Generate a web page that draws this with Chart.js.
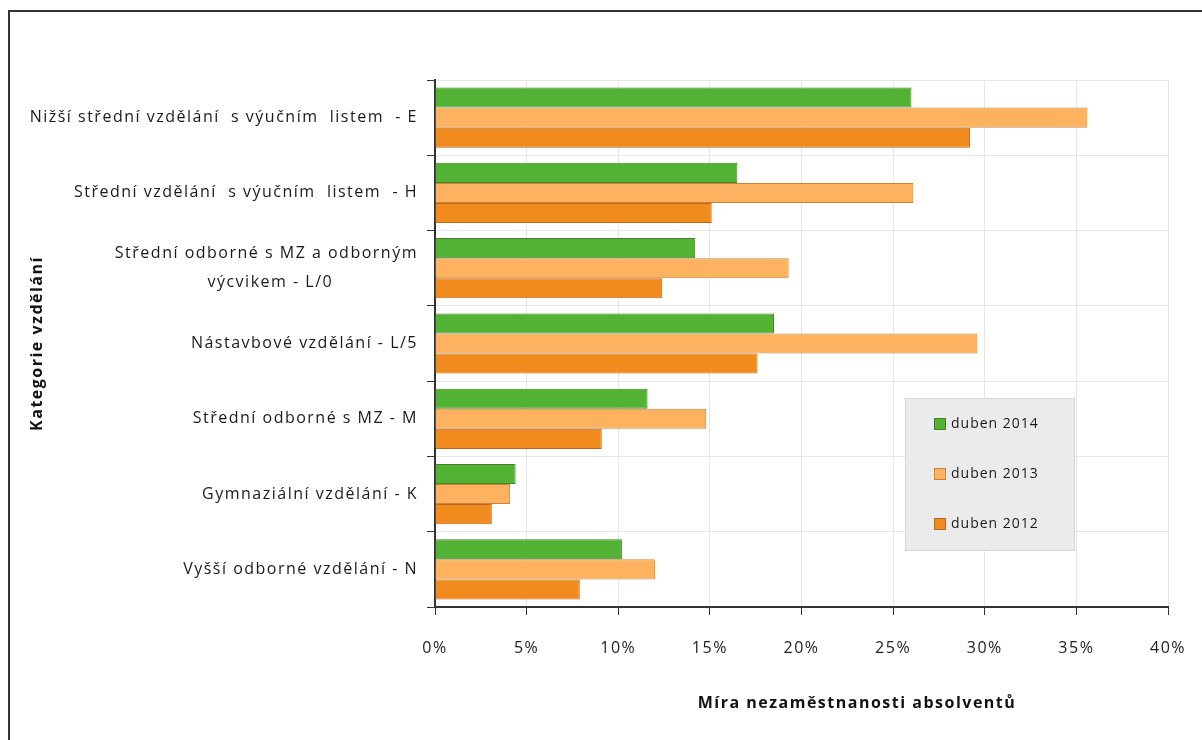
<!DOCTYPE html>
<html>
<head>
<meta charset="utf-8">
<script src="https://cdn.jsdelivr.net/npm/chart.js@4"></script>
<style>
  html, body { margin: 0; padding: 0; background: #fff; }
  #wrap { position: relative; width: 1202px; height: 740px; overflow: hidden; }
  #frame { position: absolute; left: 8px; top: 10px; width: 1300px; height: 800px;
           border-top: 2px solid #333; border-left: 2px solid #333; pointer-events: none; }
  canvas { position: absolute; left: 0; top: 0; }
</style>
</head>
<body>
<div id="wrap">
  <canvas id="chart" width="1202" height="740"></canvas>
  <div id="frame"></div>
</div>
<script>
const categories = [
    'Nižší střední vzdělání  s výučním  listem  - E',
    'Střední vzdělání  s výučním  listem  - H',
    ['Střední odborné s MZ a odborným', 'výcvikem - L/0' + '\u00a0'.repeat(15)],
    'Nástavbové vzdělání - L/5',
    'Střední odborné s MZ - M',
    'Gymnaziální vzdělání - K',
    'Vyšší odborné vzdělání - N'
];
const seriesNames = ['duben 2014', 'duben 2013', 'duben 2012'];
const duben2014 = [26.0, 16.5, 14.2, 18.5, 11.6, 4.4, 10.2];
const duben2013 = [35.6, 26.1, 19.3, 29.6, 14.8, 4.1, 12.0];
const duben2012 = [29.2, 15.1, 12.4, 17.6, 9.1, 3.1, 7.9];
const xTicks = [0, 5, 10, 15, 20, 25, 30, 35, 40];

const colors = {
    'duben 2014': { fill: '#52b233', border: '#4d7f2a' },
    'duben 2013': { fill: '#fdb25f', border: '#c9853c' },
    'duben 2012': { fill: '#f28b1d', border: '#b8691c' }
};

const FONT = '"Open Sans", "Noto Sans", sans-serif';

// the original text is rendered with wide letter spacing
const spacing = {
    id: 'spacing',
    beforeLayout(chart) { chart.ctx.letterSpacing = '1.5px'; },
    beforeDraw(chart) { chart.ctx.letterSpacing = '1.5px'; }
};

// legend drawn as a grey box inside the plot area
const boxLegend = {
    id: 'boxLegend',
    afterDraw(chart) {
        const ctx = chart.ctx;
        ctx.save();
        ctx.fillStyle = '#ebebeb';
        ctx.strokeStyle = '#d6d6d6';
        ctx.lineWidth = 1;
        ctx.fillRect(905, 398, 169, 152);
        ctx.strokeRect(905.5, 398.5, 169, 152);
        chart.data.datasets.forEach((ds, i) => {
            const cy = 424 + i * 50;
            ctx.fillStyle = ds.backgroundColor;
            ctx.strokeStyle = ds.borderColor;
            ctx.fillRect(934, cy - 6, 12, 12);
            ctx.strokeRect(934.5, cy - 5.5, 11, 11);
            ctx.fillStyle = '#1a1a1a';
            ctx.font = '14px ' + FONT;
            ctx.letterSpacing = '1px';
            ctx.textAlign = 'left';
            ctx.textBaseline = 'middle';
            ctx.fillText(ds.label, 951, cy);
        });
        ctx.restore();
    }
};

const xTitle = {
    id: 'xTitle',
    afterDraw(chart) {
        const ctx = chart.ctx;
        ctx.save();
        ctx.fillStyle = '#111';
        ctx.font = 'bold 16px ' + FONT;
        ctx.letterSpacing = '1.5px';
        ctx.textAlign = 'center';
        ctx.textBaseline = 'middle';
        ctx.fillText('Míra nezaměstnanosti absolventů', 857, 703);
        ctx.restore();
    }
};

const series = [duben2014, duben2013, duben2012];

new Chart(document.getElementById('chart'), {
    type: 'bar',
    data: {
        labels: categories,
        datasets: seriesNames.map((name, i) => ({
            label: name,
            data: series[i],
            backgroundColor: colors[name].fill,
            borderColor: colors[name].border,
            borderWidth: 1,
            categoryPercentage: 0.8,
            barPercentage: 1.0
        }))
    },
    options: {
        indexAxis: 'y',
        responsive: false,
        animation: false,
        layout: { padding: { top: 80, right: 34, bottom: 0, left: 0 } },
        plugins: { legend: { display: false }, tooltip: { enabled: false } },
        scales: {
            x: {
                min: 0,
                max: 40,
                afterBuildTicks: s => { s.ticks = xTicks.map(v => ({ value: v })); },
                afterFit: s => { s.height = 133; s.paddingLeft = 0; s.paddingRight = 0; },
                grid: { color: '#e6e6e6', tickColor: '#333', tickLength: 8 },
                border: { color: '#333', width: 2 },
                ticks: {
                    padding: 24,
                    color: '#222',
                    font: { family: FONT, size: 16 },
                    callback: v => v + '%'
                }
            },
            y: {
                afterFit: s => { s.width = 435; },
                grid: { color: '#e6e6e6', tickColor: '#333', tickLength: 8, offset: true },
                border: { color: '#333', width: 2 },
                ticks: {
                    padding: 9,
                    color: '#1a1a1a',
                    font: { family: FONT, size: 16, lineHeight: 1.8 }
                },
                title: {
                    display: true,
                    text: 'Kategorie vzdělání',
                    color: '#111',
                    font: { family: FONT, size: 16, weight: 'bold' },
                    padding: { top: 28, bottom: 0 }
                }
            }
        }
    },
    plugins: [spacing, boxLegend, xTitle]
});
</script>
</body>
</html>
